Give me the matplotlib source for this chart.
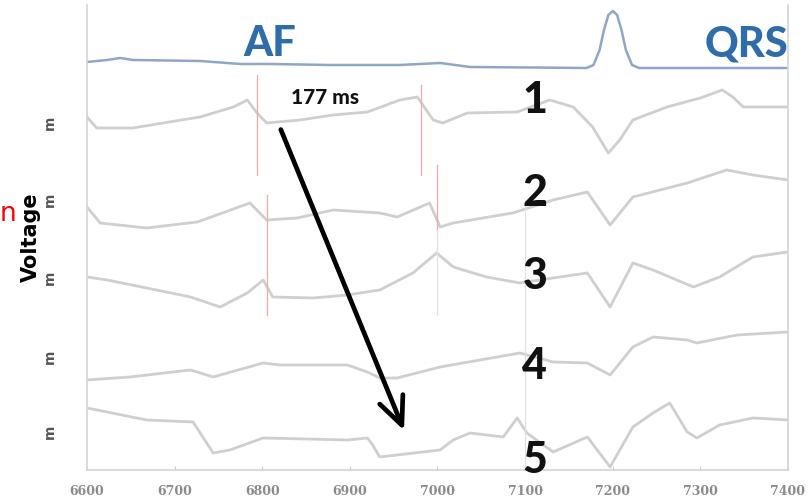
import matplotlib
matplotlib.use("Agg")
import matplotlib.pyplot as plt

# Surface ECG (blue, top)
ecg_t = [6600, 6623, 6638, 6652, 6729, 6775, 6809, 6877, 6957, 7003, 7037, 7170,
         7178, 7185, 7190, 7195, 7200, 7205, 7210, 7215, 7222, 7230, 7400]
ecg_v = [40.8, 41.0, 41.2, 41.0, 40.9, 40.6, 40.6, 40.5, 40.5, 40.7, 40.3, 40.2,
         40.5, 42.0, 44.0, 45.5, 45.9, 45.5, 44.0, 42.0, 40.5, 40.2, 40.2]

# Intracardiac channels 1-5 (gray)
ch1_t = [6600, 6611, 6652, 6729, 6767, 6783, 6794, 6805, 6843, 6881, 6920, 6957,
         6977, 6995, 7006, 7034, 7091, 7128, 7155, 7177, 7195, 7208, 7223, 7262,
         7300, 7325, 7337, 7349, 7400]
ch1_v = [35.3, 34.2, 34.2, 35.3, 36.3, 37.0, 35.7, 34.7, 35.0, 35.5, 35.8, 37.0,
         37.3, 35.0, 34.7, 35.7, 35.8, 37.0, 36.3, 34.3, 31.7, 33.0, 35.0, 36.3,
         37.2, 38.0, 37.3, 36.3, 36.3]

ch2_t = [6600, 6615, 6668, 6726, 6786, 6797, 6805, 6840, 6881, 6934, 6954, 6991,
         7003, 7018, 7086, 7132, 7171, 7197, 7223, 7285, 7330, 7360, 7400]
ch2_v = [26.3, 24.7, 24.2, 24.8, 26.7, 25.7, 25.0, 25.2, 26.0, 25.7, 25.3, 26.7,
         24.3, 24.7, 25.7, 27.0, 27.8, 24.5, 27.3, 28.7, 30.0, 29.5, 29.0]

ch3_t = [6600, 6623, 6668, 6718, 6752, 6783, 6801, 6812, 6858, 6897, 6934, 6972,
         6999, 7018, 7056, 7094, 7132, 7171, 7197, 7223, 7246, 7292, 7322, 7360, 7400]
ch3_v = [19.3, 19.0, 18.2, 17.3, 16.3, 17.7, 19.0, 17.3, 17.2, 17.5, 18.0, 19.7,
         21.7, 20.3, 19.3, 18.7, 19.2, 19.7, 16.3, 20.7, 20.0, 18.3, 19.3, 21.3, 21.8]

ch4_t = [6600, 6649, 6718, 6744, 6801, 6820, 6897, 6920, 6934, 6954, 7003, 7094,
         7132, 7171, 7197, 7223, 7246, 7285, 7296, 7342, 7400]
ch4_v = [9.0, 9.3, 10.0, 9.3, 10.7, 10.5, 10.5, 9.8, 9.2, 9.2, 10.3, 11.7,
         10.8, 10.7, 9.5, 12.3, 13.3, 13.0, 12.7, 13.5, 13.8]

ch5_t = [6600, 6668, 6721, 6744, 6763, 6801, 6897, 6920, 6926, 6934, 7003, 7018,
         7037, 7075, 7091, 7102, 7132, 7171, 7197, 7223, 7246, 7265, 7285, 7296,
         7322, 7360, 7400]
ch5_v = [6.2, 5.0, 4.8, 1.7, 2.0, 3.2, 3.0, 3.2, 2.5, 1.3, 2.0, 3.0,
         3.7, 3.3, 5.2, 3.7, 1.8, 3.3, 0.3, 4.3, 5.7, 6.7, 3.8, 3.2,
         4.5, 5.2, 5.0]

channels = [(ch1_t, ch1_v), (ch2_t, ch2_v), (ch3_t, ch3_v), (ch4_t, ch4_v), (ch5_t, ch5_v)]
channel_labels = ["1", "2", "3", "4", "5"]
label_y = [37.0, 27.7, 19.4, 10.4, 1.0]

# activation markers (time, start, end)
red_marks = [(6794, 39.5, 29.5), (6805, 27.5, 15.5), (6981, 38.5, 29.5), (6999, 30.5, 24.0)]
gray_marks = [(6999, 24.0, 15.5), (7100, 27.0, 0.0)]

ytick_pos = [34.7, 27.0, 19.2, 11.3, 3.8]
xticks = [6600, 6700, 6800, 6900, 7000, 7100, 7200, 7300, 7400]

fig = plt.figure(figsize=(8.11, 5.04), dpi=100)
ax = fig.add_axes([0.1073, 0.0675, 0.8643, 0.9226])

ax.plot(ecg_t, ecg_v, color="#8ea7c6", lw=1.8, solid_joinstyle="round")
for t, v in channels:
    ax.plot(t, v, color="#cfcfcf", lw=2.0, solid_joinstyle="round")

for x, y0, y1 in red_marks:
    ax.plot([x, x], [y0, y1], color="#f2a7ae", lw=0.9)
for x, y0, y1 in gray_marks:
    ax.plot([x, x], [y0, y1], color="#e0e0e0", lw=0.9)

big = dict(family="Lato", weight="black", fontsize=30)
ax.text(6808, 42.6, "AF", color="#2f6caa", ha="center", va="center", **big)
ax.text(7400, 42.5, "QRS", color="#2f6caa", ha="right", va="center", **big)
for lab, y in zip(channel_labels, label_y):
    ax.text(7111, y, lab, color="#111111", ha="center", va="center",
            family="Lato", weight="black", fontsize=31)
ax.text(6872, 37.2, "177 ms", color="#111111", ha="center", va="center",
        family="Lato", weight="black", fontsize=15)

ax.annotate("", xy=(6963, 3.7), xytext=(6820, 34.3),
            arrowprops=dict(arrowstyle="->,head_length=2.0,head_width=0.9",
                            color="black", lw=3.4))

ax.set_xlim(6600, 7400)
ax.set_ylim(0, 46.5)
ax.set_xticks(xticks)
ax.set_xticklabels([str(x) for x in xticks], family="DejaVu Serif", weight="bold",
                   fontsize=9, color="#8a8a8a")
ax.set_yticks(ytick_pos)
ax.set_yticklabels(["m"] * len(ytick_pos), rotation=90, fontsize=10, weight="bold",
                   color="#555555", va="center")
ax.tick_params(axis="x", direction="in", length=3, color="#cccccc", pad=11)
ax.tick_params(axis="y", length=0, pad=22)
ax.set_ylabel("Voltage", fontsize=15, weight="bold")
ax.yaxis.set_label_coords(-0.066, 0.5)

for s in ["left", "right", "bottom"]:
    ax.spines[s].set_color("#d4d4d4")
    ax.spines[s].set_linewidth(1.2)
ax.spines["top"].set_visible(False)

fig.text(0.0, 0.575, "n", color="red", fontsize=19, ha="left", va="center")

fig.savefig("out.png", dpi=100)
